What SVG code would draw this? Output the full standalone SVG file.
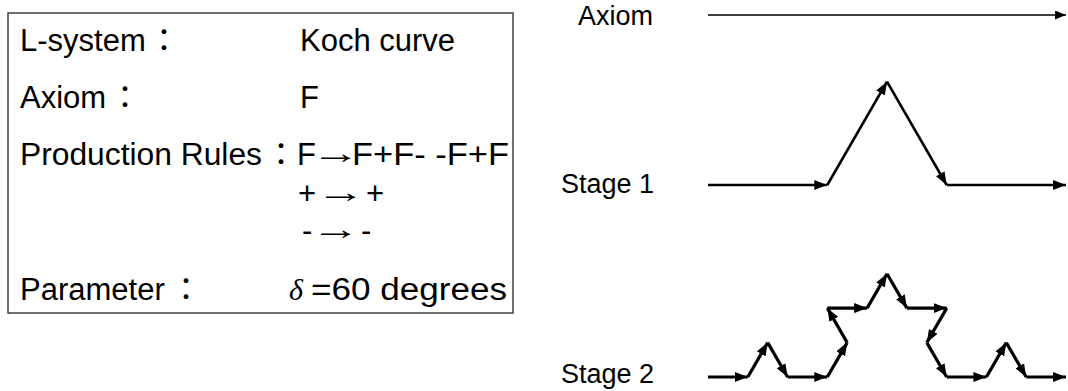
<svg xmlns="http://www.w3.org/2000/svg" width="1068" height="391" viewBox="0 0 1068 391">
<style>
.t{font-family:"Liberation Sans",Arial,sans-serif;font-size:31px;fill:#000}
.r{font-family:"Liberation Sans",Arial,sans-serif;font-size:27px;fill:#000}
.c{font-family:"Noto Sans CJK JP","Liberation Sans",sans-serif;font-size:31px;fill:#000}
.ar{font-family:"Liberation Serif","Times New Roman",serif;font-size:30px;fill:#000}
.a0{stroke:#000;stroke-width:1.5;fill:none}
.a1{stroke:#000;stroke-width:2.6;fill:none}
.a2{stroke:#000;stroke-width:3.2;fill:none}
</style>
<defs>
<marker id="h0" markerUnits="userSpaceOnUse" markerWidth="11" markerHeight="9" refX="11" refY="4.5" orient="auto"><path d="M0,0 L11,4.5 L0,9 z" fill="#000"/></marker>
<marker id="h1" markerUnits="userSpaceOnUse" markerWidth="13" markerHeight="10" refX="13" refY="5" orient="auto"><path d="M0,0 L13,5 L0,10 z" fill="#000"/></marker>
</defs>
<rect width="1068" height="391" fill="#fff"/>
<g id="rules-box">
<rect x="8" y="13" width="505" height="300" fill="none" stroke="#404040" stroke-width="1.5"/>
<text class="t" x="20" y="51">L-system</text>
<text class="c" x="164" y="51" text-anchor="middle">：</text>
<text class="t" x="300" y="51">Koch curve</text>
<text class="t" x="20" y="108">Axiom</text>
<text class="c" x="125" y="108" text-anchor="middle">：</text>
<text class="t" x="300" y="108">F</text>
<text class="t" x="20" y="165" textLength="242" lengthAdjust="spacingAndGlyphs">Production Rules</text>
<text class="c" x="281" y="165" text-anchor="middle">：</text>
<text class="t" x="297" y="165">F</text>
<text class="ar" transform="translate(311,163) scale(1.65,1)">→</text>
<text class="t" x="352" y="165" textLength="157" lengthAdjust="spacingAndGlyphs">F+F- -F+F</text>
<text class="t" x="298" y="204">+</text>
<text class="ar" transform="translate(316,202) scale(1.65,1)">→</text>
<text class="t" x="366" y="204">+</text>
<text class="t" x="302" y="241">-</text>
<text class="ar" transform="translate(311,239) scale(1.65,1)">→</text>
<text class="t" x="361" y="241">-</text>
<text class="t" x="20" y="300">Parameter</text>
<text class="c" x="186" y="300" text-anchor="middle">：</text>
<text x="289" y="300" font-family="'Liberation Serif',serif" font-style="italic" font-size="30">δ</text>
<text class="t" x="311" y="300" textLength="196" lengthAdjust="spacingAndGlyphs">=60 degrees</text>
</g>
<g id="labels">
<text class="r" x="578" y="25">Axiom</text>
<text class="r" x="561" y="193">Stage 1</text>
<text class="r" x="561" y="383">Stage 2</text>
</g>
<g id="connectors">
<line class="a0" x1="708" y1="15" x2="1066" y2="15" marker-end="url(#h0)"/>
<g class="a1" marker-end="url(#h1)">
<line x1="708" y1="185" x2="827.3" y2="185"/>
<line x1="827.3" y1="185" x2="887" y2="81.7"/>
<line x1="887" y1="81.7" x2="946.7" y2="185"/>
<line x1="946.7" y1="185" x2="1066" y2="185"/>
</g>
<g class="a2" marker-end="url(#h1)">
<line x1="708" y1="377" x2="747.8" y2="377"/>
<line x1="747.8" y1="377" x2="767.7" y2="342.6"/>
<line x1="767.7" y1="342.6" x2="787.6" y2="377"/>
<line x1="787.6" y1="377" x2="827.3" y2="377"/>
<line x1="827.3" y1="377" x2="847.2" y2="342.6"/>
<line x1="847.2" y1="342.6" x2="827.3" y2="308.1"/>
<line x1="827.3" y1="308.1" x2="867.1" y2="308.1"/>
<line x1="867.1" y1="308.1" x2="887" y2="273.7"/>
<line x1="887" y1="273.7" x2="906.9" y2="308.1"/>
<line x1="906.9" y1="308.1" x2="946.7" y2="308.1"/>
<line x1="946.7" y1="308.1" x2="926.8" y2="342.6"/>
<line x1="926.8" y1="342.6" x2="946.7" y2="377"/>
<line x1="946.7" y1="377" x2="986.4" y2="377"/>
<line x1="986.4" y1="377" x2="1006.3" y2="342.6"/>
<line x1="1006.3" y1="342.6" x2="1026.2" y2="377"/>
<line x1="1026.2" y1="377" x2="1066" y2="377"/>
</g>
</g>
</svg>
